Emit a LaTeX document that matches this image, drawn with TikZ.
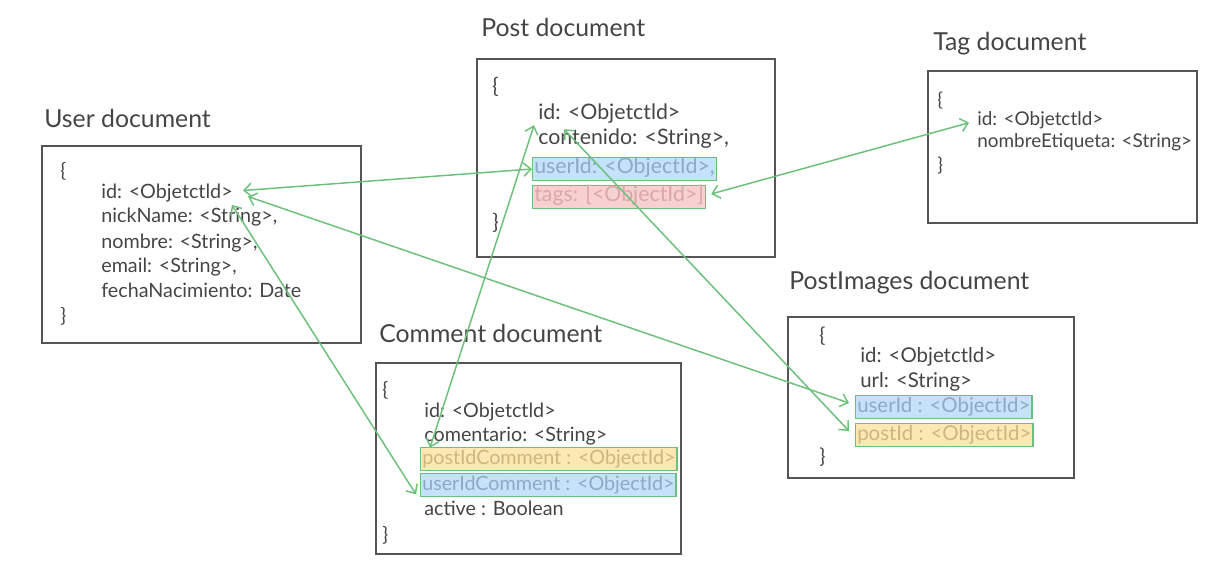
\documentclass[tikz,border=0pt]{standalone}
\usepackage{fontspec}
\setmainfont{Lato}
\usetikzlibrary{arrows.meta,calc}

\definecolor{txtgray}{HTML}{454545}
\definecolor{boxgray}{HTML}{555555}
\definecolor{linkgreen}{HTML}{6CC07C}
\definecolor{hlblue}{HTML}{C4E2FA}
\definecolor{hlbluetxt}{HTML}{8DA9C6}
\definecolor{hlpink}{HTML}{F7D1D1}
\definecolor{hlpinktxt}{HTML}{DDA6A6}
\definecolor{hlyellow}{HTML}{FBE8B2}
\definecolor{hlyellowtxt}{HTML}{CDB77C}
\newcommand\fieldsize{\fontsize{14.8}{16}\selectfont}

\begin{document}
\begin{tikzpicture}[x=0.75pt,y=-0.75pt,
  docbox/.style={draw=boxgray,line width=1.4pt},
  title/.style={anchor=base west,inner sep=0pt,text=txtgray,font=\fontsize{18.6}{20}\selectfont},
  field/.style={anchor=base west,inner sep=0.8pt,text=txtgray,font=\fieldsize},
  hlfield/.style={field,draw=linkgreen,line width=1pt,inner xsep=1.2pt,inner ysep=1.5pt,text height=11pt,text depth=3.5pt},
  hlblue/.style={hlfield,fill=hlblue,text=hlbluetxt},
  hlpink/.style={hlfield,fill=hlpink,text=hlpinktxt},
  hlyellow/.style={hlfield,fill=hlyellow,text=hlyellowtxt},
  link/.style={draw=linkgreen,line width=1.1pt,{Straight Barb[length=5.5pt,width=10pt]}-{Straight Barb[length=5.5pt,width=10pt]}}]
\useasboundingbox (0,0) rectangle (1226,577);

% User
\node[title] (u-title) at (44,128) {User document};
\draw[docbox] (42,146) rectangle (361,343);
\node[field] (u-open) at (59,178) {\{};
\node[field] (u-id) at (100,199) {id: <Objetctld>};
\node[field] (u-nick) at (100,223) {nickName: <String>,};
\node[field] (u-nombre) at (100,248) {nombre: <String>,};
\node[field] (u-email) at (100,272) {email: <String>,};
\node[field] (u-fecha) at (100,297) {fechaNacimiento: Date};
\node[field] (u-close) at (59,322) {\}};

% Post
\node[title] (p-title) at (481,37) {Post document};
\draw[docbox] (477,59) rectangle (775,257);
\begin{scope}
\def\fieldsize{\fontsize{16}{18}\selectfont}
\node[field] (p-open) at (491,94) {\{};
\node[field] (p-id) at (537,120) {id: <Objetctld>};
\node[field] (p-cont) at (537,145) {contenido: <String>,};
\node[hlblue] (p-user) at (532,174) {userId: <ObjectId>,};
\node[hlpink] (p-tags) at (532,202) {tags: [<ObjectId>]};
\node[field] (p-close) at (491,229) {\}};
\end{scope}

% Tag
\node[title] (t-title) at (933,51) {Tag document};
\draw[docbox] (928,71) rectangle (1197,223);
\begin{scope}
\def\fieldsize{\fontsize{14.2}{16}\selectfont}
\node[field] (t-open) at (936,107) {\{};
\node[field] (t-id) at (976,126) {id: <Objetctld>};
\node[field] (t-nombre) at (976,148) {nombreEtiqueta: <String>};
\node[field] (t-close) at (936,172) {\}};
\end{scope}

% Comment
\node[title] (c-title) at (379,342) {Comment document};
\draw[docbox] (376,363) rectangle (681,554);
\node[field] (c-open) at (381,396) {\{};
\node[field] (c-id) at (423,417) {id: <Objetctld>};
\node[field] (c-com) at (423,441) {comentario: <String>};
\node[hlyellow] (c-post) at (420,464) {postIdComment : <ObjectId>};
\node[hlblue] (c-user) at (420,490) {userIdComment : <ObjectId>};
\node[field] (c-active) at (423,515) {active : Boolean};
\node[field] (c-close) at (381,541) {\}};

% PostImages
\node[title] (i-title) at (789,289) {PostImages document};
\draw[docbox] (788,317) rectangle (1074,478);
\begin{scope}
\def\fieldsize{\fontsize{15.3}{17}\selectfont}
\node[field] (i-open) at (818,342) {\{};
\node[field] (i-id) at (859,362) {id: <Objetctld>};
\node[field] (i-url) at (859,387) {url: <String>};
\node[hlblue] (i-user) at (855,412) {userId : <ObjectId>};
\node[hlyellow] (i-post) at (855,440) {postId : <ObjectId>};
\node[field] (i-close) at (818,463) {\}};
\end{scope}

% references
\draw[link] ($(u-id.east)+(9,-3)$) -- (p-user.west);
\draw[link] ($(u-id.east)+(14,3)$) -- ($(i-user.west)+(-6,-4)$);
\draw[link] ($(u-id.south east)+(-2,1)$) -- ($(c-user.south west)+(-4,-3)$);
\draw[link] ($(p-id.south west)+(-3,0)$) -- ($(c-post.north west)+(10,1)$);
\draw[link] ($(p-id.south west)+(27,4)$) -- ($(i-post.west)+(-6,-4)$);
\draw[link] ($(p-tags.east)+(5,-3)$) -- ($(t-id.west)+(-7,2)$);
\end{tikzpicture}
\end{document}
